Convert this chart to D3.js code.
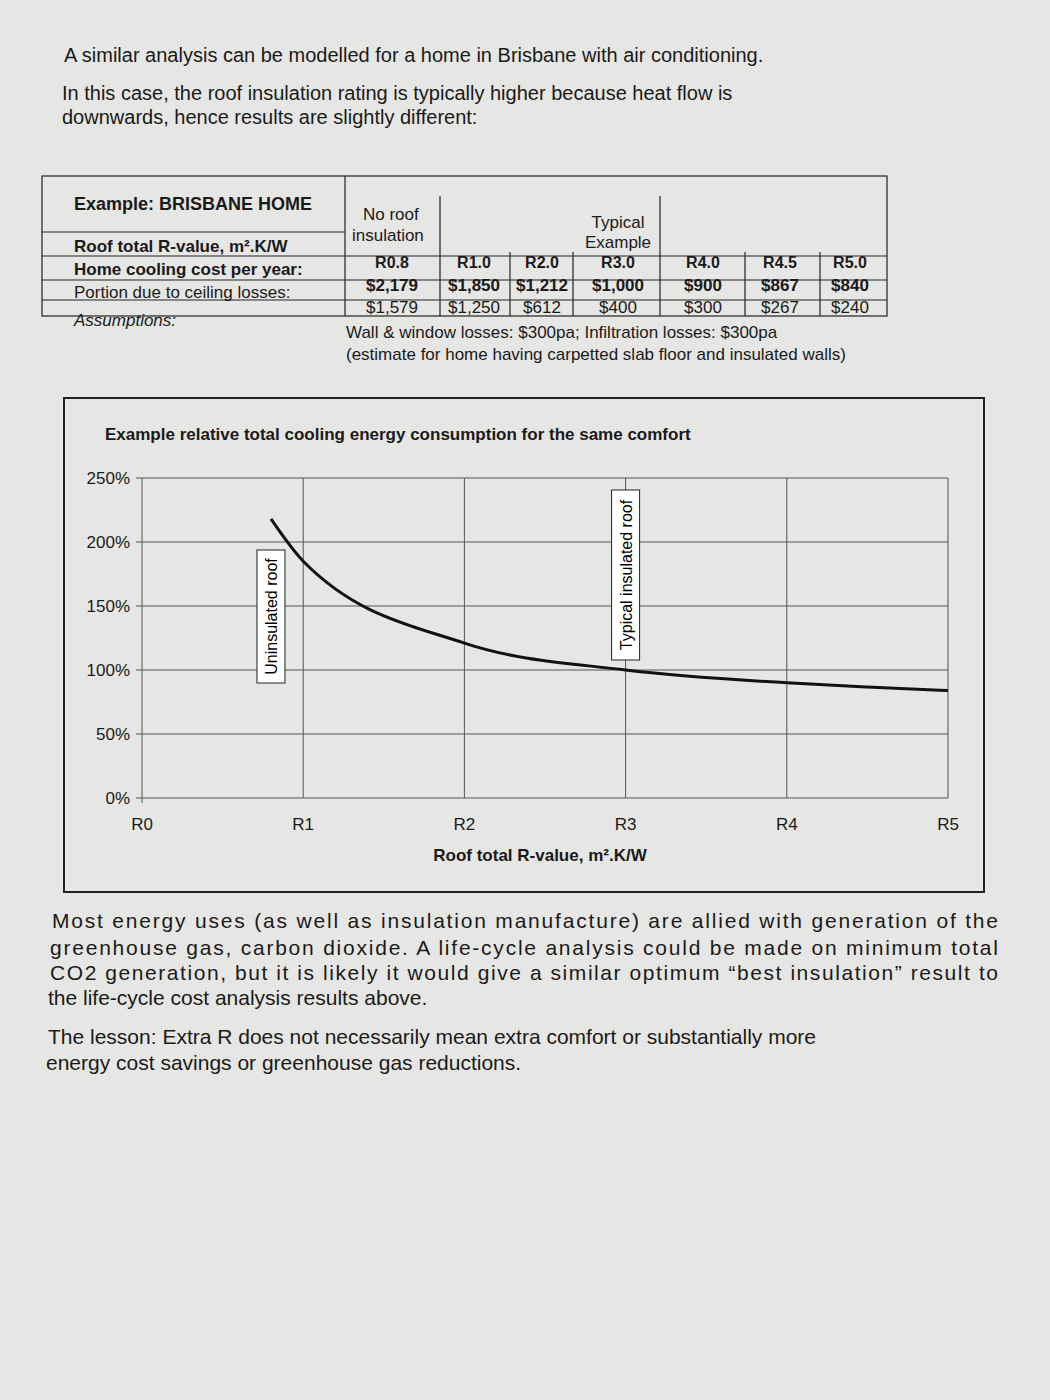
<!DOCTYPE html>
<html><head><meta charset="utf-8">
<script src="https://cdn.jsdelivr.net/npm/d3@7"></script>
<style>
body{margin:0;background:#e6e6e4;font-family:"Liberation Sans",Arial,sans-serif;color:#1a1a1a;}
</style></head>
<body><svg id="s" width="1050" height="1400"></svg>
<script>
const rValues=[0.8,1.0,2.0,3.0,4.0,4.5,5.0];
const relEnergy=[218,185,121,100,90,86.7,84];
const xTicks=["R0","R1","R2","R3","R4","R5"];
const yTicks=[0,50,100,150,200,250];
const headRow=["R0.8","R1.0","R2.0","R3.0","R4.0","R4.5","R5.0"];
const costRow=["$2,179","$1,850","$1,212","$1,000","$900","$867","$840"];
const ceilRow=["$1,579","$1,250","$612","$400","$300","$267","$240"];

const svg=d3.select("#s");
svg.append("rect").attr("width",1050).attr("height",1400).attr("fill","#e6e6e4");
const T=(x,y,t,o={})=>svg.append("text").attr("x",x).attr("y",y).text(t)
 .attr("font-size",o.s||20).attr("font-weight",o.b?"bold":null).attr("text-anchor",o.a||"start")
 .attr("font-style",o.i?"italic":null).attr("fill","#1a1a1a");
T(64,62,"A similar analysis can be modelled for a home in Brisbane with air conditioning.");
T(62,100,"In this case, the roof insulation rating is typically higher because heat flow is");
T(62,124,"downwards, hence results are slightly different:");

// table
const g=svg.append("g").attr("stroke","#222").attr("fill","none").attr("stroke-width",1.2);
g.append("rect").attr("x",42).attr("y",176).attr("width",845).attr("height",140);
[[42,232,345,232],[42,256,887,256],[42,280,887,280],[42,300,345,300],[345,300,887,300],
 [345,176,345,316],[440,196,440,316],[510,252,510,316],[573,252,573,316],[660,196,660,316],[745,252,745,316],[820,252,820,316]]
 .forEach(l=>g.append("line").attr("x1",l[0]).attr("y1",l[1]).attr("x2",l[2]).attr("y2",l[3]));
T(74,210,"Example: BRISBANE HOME",{b:1,s:18});
T(363,220,"No roof",{s:17});T(352,241,"insulation",{s:17});
T(618,228,"Typical",{s:17,a:"middle"});T(618,248,"Example",{s:17,a:"middle"});
T(74,252,"Roof total R-value, m².K/W",{b:1,s:17});
T(74,275,"Home cooling cost per year:",{b:1,s:17});
T(74,298,"Portion due to ceiling losses:",{s:17});
T(74,326,"Assumptions:",{s:17,i:1});
const cx=[392,474,542,618,703,780,850];
headRow.forEach((t,i)=>T(cx[i],268,t,{b:1,s:16,a:"middle"}));
costRow.forEach((t,i)=>T(cx[i],291,t,{b:1,s:17,a:"middle"}));
ceilRow.forEach((t,i)=>T(cx[i],313,t,{s:17,a:"middle"}));
T(346,338,"Wall & window losses: $300pa; Infiltration losses: $300pa",{s:17});
T(346,360,"(estimate for home having carpetted slab floor and insulated walls)",{s:17});

// chart box
svg.append("rect").attr("x",64).attr("y",398).attr("width",920).attr("height",494).attr("fill","none").attr("stroke","#222").attr("stroke-width",2);
T(105,440,"Example relative total cooling energy consumption for the same comfort",{b:1,s:17});
const x=d3.scaleLinear().domain([0,5]).range([142,948]);
const y=d3.scaleLinear().domain([0,250]).range([798,478]);
const pg=svg.append("g");
yTicks.forEach(v=>{pg.append("line").attr("x1",x(0)-6).attr("x2",x(5)).attr("y1",y(v)).attr("y2",y(v)).attr("stroke","#555");
 T(130,y(v)+6,v+"%",{s:17,a:"end"});});
[1,2,3,4,5].forEach(v=>pg.append("line").attr("x1",x(v)).attr("x2",x(v)).attr("y1",y(250)).attr("y2",y(0)).attr("stroke","#555"));
pg.append("line").attr("x1",x(0)).attr("x2",x(0)).attr("y1",y(250)).attr("y2",y(0)+5).attr("stroke","#555");
xTicks.forEach((t,i)=>T(x(i),830,t,{s:17,a:"middle"}));
T(540,861,"Roof total R-value, m².K/W",{b:1,s:17,a:"middle"});
const pts=rValues.map((r,i)=>[r,relEnergy[i]]);
svg.append("path").attr("d",d3.line().x(d=>x(d[0])).y(d=>y(d[1])).curve(d3.curveMonotoneX)(pts))
 .attr("fill","none").attr("stroke","#111").attr("stroke-width",3);
function vlab(cxp,y0,y1,t){svg.append("rect").attr("x",cxp-14).attr("y",y0).attr("width",28).attr("height",y1-y0).attr("fill","#fff").attr("stroke","#222");
 svg.append("text").attr("transform",`translate(${cxp+6},${(y0+y1)/2}) rotate(-90)`).attr("text-anchor","middle").attr("font-size",16).text(t);}
vlab(x(0.8),550,683,"Uninsulated roof");
vlab(x(3),490,660,"Typical insulated roof");

const para=[[52,928,"Most energy uses (as well as insulation manufacture) are allied with generation of the"],
[50,955,"greenhouse gas, carbon dioxide. A life-cycle analysis could be made on minimum total"],
[50,980,"CO2 generation, but it is likely it would give a similar optimum “best insulation” result to"],
[48,1005,"the life-cycle cost analysis results above."],
[48,1044,"The lesson: Extra R does not necessarily mean extra comfort or substantially more"],
[46,1070,"energy cost savings or greenhouse gas reductions."]];
para.forEach(p=>{const t=T(p[0],p[1],p[2],{s:21}); if(p[1]<1010) t.attr("textLength",998-p[0]).attr("lengthAdjust","spacing");});
svg.select("text:nth-last-of-type(3)").attr("textLength",null);
</script></body></html>
